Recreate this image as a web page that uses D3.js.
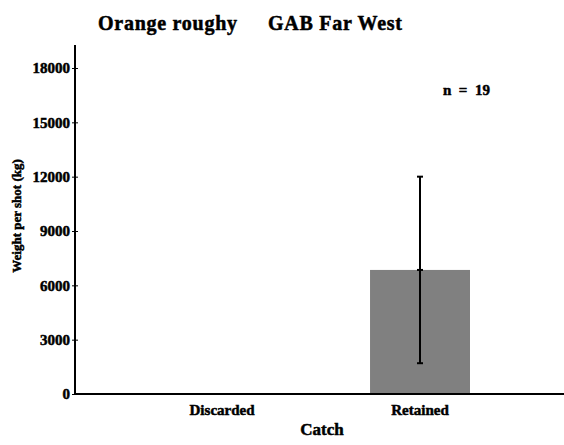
<!DOCTYPE html>
<html><head><meta charset="utf-8">
<script src="https://cdn.jsdelivr.net/npm/d3@7"></script>
<style>body{margin:0;background:#fff}svg{display:block}svg text{font-family:"Liberation Serif","Times New Roman",serif !important;font-weight:bold;fill:#000;stroke:#000;stroke-width:0.5px}</style>
</head><body>
<svg id="c" width="564" height="445"></svg>
<script>
const categories = ["Discarded", "Retained"];
const means = [0, 6850];
const errors = [0, 5150];
const yTicks = [0, 3000, 6000, 9000, 12000, 15000, 18000];
const titleLeft = "Orange roughy";
const titleRight = "GAB Far West";
const nLabel = "n = 19";

const svg = d3.select("#c");
const x = d3.scaleBand().domain(categories).range([75, 564]).paddingInner(0.495).paddingOuter(0.4825).align(0.508);
const y = d3.scaleLinear().domain([0, 19270]).range([394, 45]);

// bars
svg.selectAll("rect.bar").data(categories).enter().append("rect")
  .attr("x", d => x(d)).attr("width", x.bandwidth())
  .attr("y", (d,i) => y(means[i])).attr("height", (d,i) => y(0) - y(means[i]))
  .attr("fill", "#808080");

// error bars
categories.forEach((c, i) => {
  const cx = x(c) + x.bandwidth()/2;
  const col = errors[i] === 0 ? "#bbb" : "#000";
  const g = svg.append("g").attr("stroke", col).attr("stroke-width", 2);
  g.append("line").attr("x1", cx).attr("x2", cx).attr("y1", y(means[i] + errors[i])).attr("y2", y(means[i] - errors[i]));
  [means[i] + errors[i], means[i], means[i] - errors[i]].forEach(v => {
    g.append("line").attr("x1", cx - 3).attr("x2", cx + 3).attr("y1", y(v)).attr("y2", y(v));
  });
});

// y axis
const ya = svg.append("g").attr("transform", "translate(75,0)")
  .call(d3.axisLeft(y).tickValues(yTicks).tickSize(3).tickFormat(d3.format("d")))
  .attr("font-family", null).attr("font-size", 15);
ya.select(".domain").remove();
ya.selectAll(".tick line").attr("x2", 3).attr("x1", -3).attr("stroke", "#000");
ya.selectAll(".tick text").attr("x", -5);
svg.append("line").attr("x1", 75).attr("x2", 75).attr("y1", 45).attr("y2", 395).attr("stroke", "#000").attr("stroke-width", 2);

// x axis
const xa = svg.append("g").attr("transform", "translate(0,394)")
  .call(d3.axisBottom(x).tickSize(0).tickPadding(10))
  .attr("font-family", null).attr("font-size", 15);
xa.select(".domain").remove();
svg.append("line").attr("x1", 74).attr("x2", 564).attr("y1", 394).attr("y2", 394).attr("stroke", "#000").attr("stroke-width", 2);

// labels
svg.append("text").attr("x", 322).attr("y", 435).attr("text-anchor", "middle").style("font-size", "17px").text("Catch");
svg.append("text").attr("transform", "translate(21,216) rotate(-90)").attr("text-anchor", "middle").style("font-size", "13px").text("Weight per shot (kg)");
svg.append("text").attr("x", 98).attr("y", 30).style("font-size", "20px").attr("textLength", 139).text(titleLeft);
svg.append("text").attr("x", 268).attr("y", 30).style("font-size", "20px").attr("textLength", 134).text(titleRight);
svg.append("text").attr("x", 443).attr("y", 95).style("font-size", "15px").attr("xml:space","preserve").text(nLabel.replace(/ /g, "  "));
</script>
</body></html>
